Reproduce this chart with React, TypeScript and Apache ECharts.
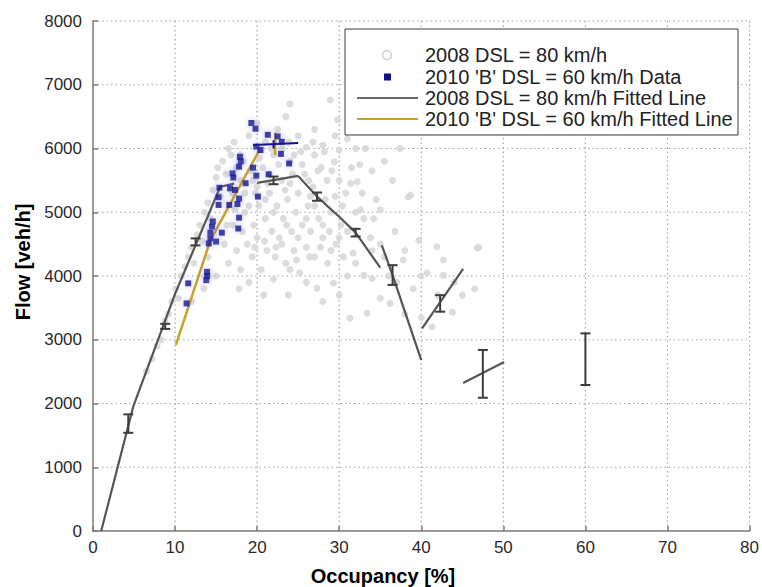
import React, { useEffect, useRef } from "react";
import * as echarts from "echarts";

const xTicks = [0, 10, 20, 30, 40, 50, 60, 70, 80];
const yTicks = [0, 1000, 2000, 3000, 4000, 5000, 6000, 7000, 8000];

const legendNames = [
  "2008 DSL = 80 km/h",
  "2010 'B' DSL = 60 km/h Data",
  "2008 DSL = 80 km/h Fitted Line",
  "2010 'B' DSL = 60 km/h Fitted Line",
];

const data2008: number[][] = [
  [6.5, 2500], [7.2, 2700], [7.8, 2900], [8.3, 3000], [8.8, 3300], [9.2, 3400], [9.6, 3600], [10.1, 3800],
  [10.4, 3650], [10.8, 4000], [11.2, 4150], [11.6, 4300], [12.0, 4450], [12.3, 4200], [12.7, 4650], [13.0, 4800],
  [13.3, 4550], [13.6, 5000], [14.0, 5150], [14.3, 4900], [14.6, 5350], [15.0, 5550], [15.2, 5700], [15.5, 5250],
  [15.8, 5800], [16.2, 5600], [16.5, 6000], [16.8, 5900], [17.2, 6100], [17.5, 5700],
  [16.0, 4500], [16.5, 4200], [17.0, 4800], [17.5, 4400], [18.0, 4100], [18.2, 4700], [18.5, 5000], [18.8, 4500],
  [19.0, 3900], [19.4, 4300], [19.6, 4800], [19.8, 5300], [20.0, 4600], [20.2, 5100], [20.5, 4100], [20.7, 5700],
  [21.0, 4900], [21.2, 4400], [21.5, 5300], [21.8, 4700], [22.0, 5900], [22.2, 4300], [22.4, 5100], [22.7, 4600],
  [23.0, 5500], [23.2, 4900], [23.5, 4200], [23.7, 5200], [24.0, 5800], [24.2, 4700], [24.5, 4400], [24.7, 5000],
  [25.0, 5300], [25.2, 4050], [25.5, 4800], [25.8, 5600], [26.0, 4450], [26.2, 5100], [26.5, 4700], [26.8, 5400],
  [27.0, 4300], [27.3, 3810], [27.5, 4900], [27.8, 5700], [28.0, 4600], [28.3, 5200], [28.6, 4200], [29.0, 5000],
  [29.3, 3890], [29.4, 5790], [29.6, 4500], [30.0, 5975], [30.2, 4800], [30.5, 4300], [30.8, 5300], [31.0, 4000],
  [31.3, 3340], [31.7, 4360], [32.0, 5000], [32.2, 5480], [32.6, 5040], [33.0, 4010], [33.2, 6000], [33.4, 3420],
  [33.8, 4600], [34.0, 3960], [34.5, 5200], [35.0, 5040], [35.5, 4300], [36.2, 3570], [36.8, 4700], [37.4, 6000],
  [37.8, 4250], [38.4, 5240], [38.7, 5270], [39.0, 3800], [39.7, 4560], [40.0, 4000], [40.7, 4050], [41.3, 3200],
  [41.9, 4460], [42.7, 4250], [42.7, 4010], [43.8, 3430], [45.0, 3700], [46.8, 4440], [47.0, 4450],
  [19.0, 6200], [20.0, 6400], [21.0, 6100], [22.5, 6300], [23.5, 6500], [24.0, 6700], [25.0, 6200], [26.0, 6020],
  [27.0, 6300], [28.0, 6050], [28.9, 6760], [29.5, 6200], [31.0, 6150], [32.5, 5750], [34.0, 5650], [35.5, 5800],
  [36.5, 5500], [19.5, 5500], [18.0, 5900], [20.5, 6000], [21.5, 5600], [23.0, 6000], [24.5, 5900], [25.5, 5750],
  [27.0, 5900], [28.5, 5500], [30.0, 5500], [31.5, 5700], [26.5, 5250], [29.5, 5250], [24.0, 5450],
  [17.0, 5300], [18.0, 5500], [19.0, 5100], [20.0, 5400], [21.0, 5200], [22.0, 5000], [23.0, 4500], [24.0, 4100],
  [25.0, 4600], [26.0, 4900], [27.0, 5100], [28.0, 4800], [29.0, 4400], [30.0, 4600], [31.0, 4700], [32.0, 4200],
  [33.0, 4900], [34.0, 4400], [35.0, 4500], [36.0, 4000], [37.0, 3900], [38.0, 4400], [22.0, 3950], [23.8, 3700],
  [26.0, 3900], [28.0, 3600], [30.0, 3700], [35.0, 3650], [38.0, 3400], [40.0, 3350], [42.0, 3700], [44.0, 3900],
  [46.5, 3800], [20.8, 3700], [17.8, 3800], [15.0, 4000], [13.5, 3800], [12.0, 3600], [14.0, 4300],
  [18.5, 5300], [19.2, 5650], [20.3, 5850], [21.3, 5450], [22.6, 5750], [23.4, 5350], [24.3, 5600], [25.3, 5950],
  [26.3, 5500], [27.4, 5650], [28.2, 5950], [29.1, 5650], [19.7, 4450], [20.9, 4550], [22.3, 4450], [23.6, 4800],
  [24.8, 4250], [26.4, 4300], [27.7, 4450], [28.8, 4700], [30.4, 5100], [31.4, 5450], [32.8, 5300], [34.2, 4900],
  [18.3, 5800], [17.3, 5050], [16.3, 4800], [21.7, 6000], [23.9, 6100], [26.8, 6100], [29.8, 6450], [32.0, 6000],
];

const data2010: number[][] = [
  [19.3, 6400], [19.8, 6310], [21.3, 6215], [22.5, 6190], [23.0, 6105], [19.9, 6030], [20.4, 5975], [22.9, 5915],
  [23.9, 5765], [17.9, 5870], [18.0, 5800], [17.8, 5715], [19.5, 5700], [17.0, 5610], [17.1, 5545], [19.9, 5575],
  [21.4, 5595], [18.6, 5455], [15.4, 5385], [16.7, 5375], [17.3, 5350], [15.3, 5235], [17.8, 5215], [20.1, 5245],
  [15.3, 5115], [16.6, 5115], [17.6, 5130], [17.8, 4915], [17.7, 4745], [14.6, 4855], [14.5, 4775], [14.3, 4680],
  [15.7, 4680], [14.3, 4590], [15.0, 4540], [14.1, 4510], [13.9, 4065], [13.8, 3935], [11.6, 3885], [11.4, 3570],
  [13.9, 4000],
];

const fit2008Segments: number[][][] = [
  [[1, 0], [4.9, 1950], [10, 3720], [15.5, 5400]],
  [[15.5, 5400], [17.2, 5450]],
  [[20, 5460], [25, 5570]],
  [[25, 5570], [27.3, 5245], [30, 4930], [32, 4680], [35, 4130]],
  [[35.2, 4480], [36.5, 4015], [40, 2680]],
  [[40.1, 3180], [45.1, 4110]],
  [[45.1, 2320], [50.1, 2650]],
];

const fit2010Segments: number[][][] = [
  [[10.1, 2920], [14.3, 4560], [20.3, 5980]],
  [[22.2, 5900], [22.2, 6250]],
];

const fit2010Extra: number[][][] = [
  [[19.5, 6055], [25, 6085]],
  [[22, 6000], [22, 6130]],
];

// [x, low, high]
const errBars2008: number[][] = [
  [4.3, 1540, 1830], [8.8, 3170, 3250], [12.5, 4480, 4590], [22.0, 5440, 5560], [27.3, 5180, 5310],
  [32.0, 4620, 4740], [36.5, 3860, 4170], [42.3, 3440, 3700], [47.5, 2090, 2840], [60.0, 2290, 3100],
];

const FONT = "'Liberation Sans', Arial, Helvetica, sans-serif";

export default function App() {
  const ref = useRef<HTMLDivElement>(null);
  useEffect(() => {
    if (!ref.current) return;
    const chart = echarts.init(ref.current, undefined, { renderer: "svg" });
    const grayLine = "#555555";
    const gold = "#c9a227";
    const navy = "#10108a";
    const xMin = xTicks[0];
    const xMax = xTicks[xTicks.length - 1];
    const yMin = yTicks[0];
    const yMax = yTicks[yTicks.length - 1];
    const gridStyle = { stroke: "#a4a4a4", lineWidth: 1.2, lineDash: [1.5, 3] };

    const series: any[] = [
      {
        name: "vgrid",
        type: "custom",
        data: xTicks.slice(1).map((v) => [v, yMin, yMax]),
        encode: { x: 0, y: [1, 2] },
        silent: true,
        z: 0,
        renderItem: (params: any, api: any) => {
          const a = api.coord([api.value(0), api.value(1)]);
          const b = api.coord([api.value(0), api.value(2)]);
          return { type: "line", shape: { x1: a[0], y1: a[1], x2: b[0], y2: b[1] }, style: gridStyle };
        },
      },
      {
        name: "hgrid",
        type: "custom",
        data: yTicks.slice(1).map((v) => [xMin, xMax, v]),
        encode: { x: [0, 1], y: 2 },
        silent: true,
        z: 0,
        renderItem: (params: any, api: any) => {
          const a = api.coord([api.value(0), api.value(2)]);
          const b = api.coord([api.value(1), api.value(2)]);
          return { type: "line", shape: { x1: a[0], y1: a[1], x2: b[0], y2: b[1] }, style: gridStyle };
        },
      },
      {
        name: legendNames[0],
        type: "scatter",
        data: data2008,
        symbol: "circle",
        symbolSize: 7,
        itemStyle: { color: "#d6d6d6", opacity: 0.85 },
        z: 1,
      },
    ];
    fit2008Segments.forEach((seg) =>
      series.push({
        name: legendNames[2],
        type: "line",
        data: seg,
        symbol: "none",
        lineStyle: { color: grayLine, width: 2.2 },
        z: 3,
      })
    );
    fit2010Segments.forEach((seg) =>
      series.push({
        name: legendNames[3],
        type: "line",
        data: seg,
        symbol: "none",
        lineStyle: { color: gold, width: 2.5 },
        z: 3,
      })
    );
    fit2010Extra.forEach((seg) =>
      series.push({
        name: "2010 extra",
        type: "line",
        data: seg,
        symbol: "none",
        lineStyle: { color: navy, width: 2 },
        z: 4,
      })
    );
    series.push({
      name: legendNames[1],
      type: "scatter",
      data: data2010,
      symbol: "rect",
      symbolSize: 6,
      itemStyle: { color: navy, shadowColor: "rgba(110,110,255,0.55)", shadowBlur: 7 },
      z: 5,
    });
    series.push({
      name: "errbars",
      type: "custom",
      data: errBars2008,
      encode: { x: 0, y: [1, 2] },
      z: 6,
      renderItem: (params: any, api: any) => {
        const x = api.value(0);
        const lo = api.coord([x, api.value(1)]);
        const hi = api.coord([x, api.value(2)]);
        const w = 5;
        const st = { stroke: "#3c3c3c", lineWidth: 2 };
        return {
          type: "group",
          children: [
            { type: "line", shape: { x1: lo[0], y1: lo[1], x2: hi[0], y2: hi[1] }, style: st },
            { type: "line", shape: { x1: lo[0] - w, y1: lo[1], x2: lo[0] + w, y2: lo[1] }, style: st },
            { type: "line", shape: { x1: hi[0] - w, y1: hi[1], x2: hi[0] + w, y2: hi[1] }, style: st },
          ],
        };
      },
    });

    const axisCommon = {
      type: "value",
      axisLine: { show: true, lineStyle: { color: "#7a7a7a", width: 1.5 } },
      axisTick: { show: true, inside: true, length: 5, lineStyle: { color: "#7a7a7a", width: 1.5 } },
      splitLine: { show: false },
    };

    const rowY = [55, 77, 98, 119];
    const textX = 425;
    const legendGraphics: any[] = [
      {
        type: "rect",
        shape: { x: 345, y: 29, width: 393, height: 106 },
        style: { fill: "#ffffff", stroke: "#3a3a3a", lineWidth: 1 },
        z: 100,
      },
      {
        type: "circle",
        shape: { cx: 387, cy: rowY[0], r: 4.5 },
        style: { fill: "#ffffff", stroke: "#cfcfcf", lineWidth: 1.5 },
        z: 101,
      },
      {
        type: "rect",
        shape: { x: 384, y: rowY[1] - 3.5, width: 7, height: 7 },
        style: { fill: navy },
        z: 101,
      },
      {
        type: "line",
        shape: { x1: 357, y1: rowY[2], x2: 418, y2: rowY[2] },
        style: { stroke: "#6a6a6a", lineWidth: 2 },
        z: 101,
      },
      {
        type: "line",
        shape: { x1: 357, y1: rowY[3], x2: 418, y2: rowY[3] },
        style: { stroke: gold, lineWidth: 2 },
        z: 101,
      },
    ];
    legendNames.forEach((n, i) =>
      legendGraphics.push({
        type: "text",
        x: textX,
        y: rowY[i],
        z: 101,
        style: { text: n, font: `20px ${FONT}`, fill: "#222", align: "left", verticalAlign: "middle" },
      })
    );

    chart.setOption({
      animation: false,
      backgroundColor: "#ffffff",
      grid: { left: 93, top: 21, right: 12, bottom: 56 },
      xAxis: {
        ...axisCommon,
        min: xMin,
        max: xMax,
        interval: 10,
        axisLabel: { fontSize: 17, color: "#2a2a2a", margin: 8, fontFamily: FONT, formatter: (v: number) => String(v) },
      },
      yAxis: {
        ...axisCommon,
        min: yMin,
        max: yMax,
        interval: 1000,
        axisLabel: { fontSize: 17, color: "#2a2a2a", margin: 11, fontFamily: FONT, formatter: (v: number) => String(v) },
      },
      graphic: [
        ...legendGraphics,
        {
          type: "text",
          x: 383,
          y: 576,
          style: {
            text: "Occupancy [%]",
            font: `bold 20px ${FONT}`,
            fill: "#000",
            align: "center",
            verticalAlign: "middle",
          },
        },
        {
          type: "text",
          x: 23,
          y: 262,
          rotation: Math.PI / 2,
          style: {
            text: "Flow [veh/h]",
            font: `bold 20px ${FONT}`,
            fill: "#000",
            align: "center",
            verticalAlign: "middle",
          },
        },
      ],
      series,
    });
    return () => chart.dispose();
  }, []);
  return (
    <div
      ref={ref}
      style={{ position: "fixed", left: 0, top: 0, width: 762, height: 587, background: "#fff" }}
    />
  );
}
